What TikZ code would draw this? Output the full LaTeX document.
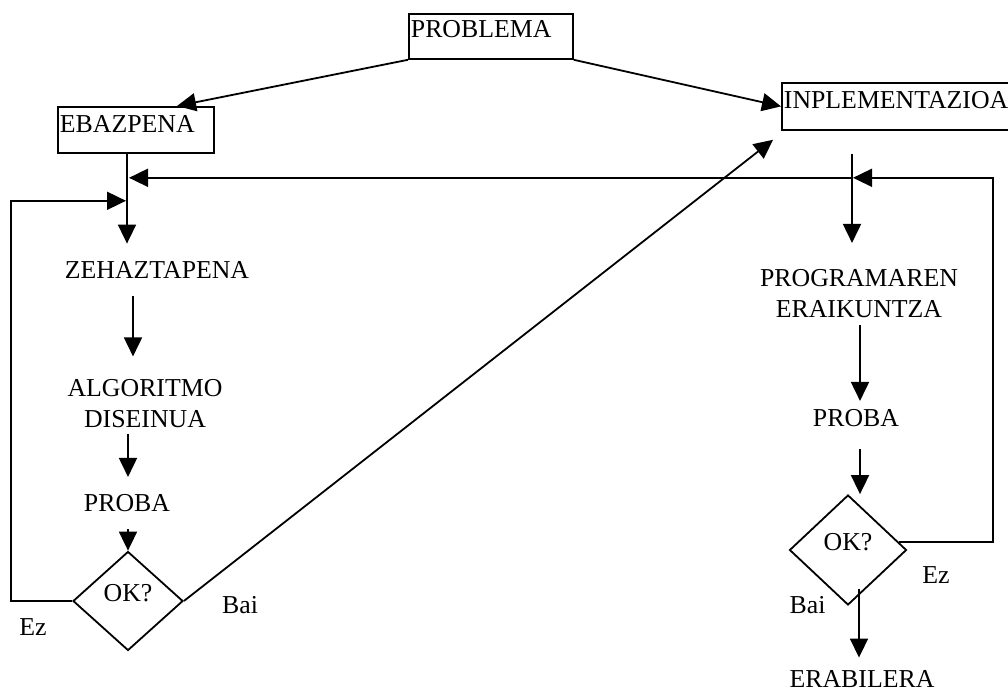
\documentclass[tikz,border=0pt]{standalone}
\usepackage{fontspec}
\setmainfont{Liberation Serif}
\usetikzlibrary{arrows.meta,shapes.geometric,calc}

\begin{document}
\begin{tikzpicture}[x=1pt,y=-1pt,line width=1.8pt,
		font=\fontsize{25.8}{31}\selectfont,
		arr/.style={-{Triangle[length=19pt,width=18pt]}},
		tbox/.style={draw,rectangle,anchor=north west,inner xsep=2pt,inner ysep=2pt,align=left,text height=24pt},
		txt/.style={inner sep=0pt,align=center},
		decision/.style={draw,diamond,inner sep=0pt,text height=17pt,text depth=17pt}]
		\useasboundingbox (0,0) rectangle (1008,693);

		\node[tbox,text width=160pt,text height=22pt,text depth=19pt] (problema) at (408,13) {PROBLEMA};
		\node[tbox,text width=152pt,text depth=18pt] (ebaz) at (57,106) {EBAZPENA};
		\node[tbox,text width=226pt,text depth=19pt] (inpl) at (781,82) {INPLEMENTAZIOA};

		% ebazpena
		\node[txt] (zehaz) at (157,270) {ZEHAZTAPENA};
		\node[txt] (algor) at (145,403.5) {ALGORITMO\\DISEINUA};
		\node[txt] (probaL) at (127,503.5) {PROBA};
		\node[decision,minimum width=110pt,minimum height=99pt] (okL) at (128,601) {OK?};
		\node[txt] (ezL) at (33,627) {Ez};
		\node[txt] (baiL) at (240,605.5) {Bai};

		% inplementazioa
		\node[txt] (progr) at (859,294) {PROGRAMAREN\\ERAIKUNTZA};
		\node[txt] (probaR) at (856,418.5) {PROBA};
		\node[decision,minimum width=117pt,minimum height=110pt] (okR) at (848,550) {OK?};
		\node[txt] (ezR) at (936,575) {Ez};
		\node[txt] (baiR) at (807.5,605.5) {Bai};
		\node[txt] (erab) at (862,679) {ERABILERA};

		\draw[arr] (problema.south west) -- ($(ebaz.north west)+(120,0)$);
		\draw[arr] (problema.south east) -- (inpl.west);

		\draw[arr] ($(ebaz.south west)+(70,0)$) -- ($(zehaz.north)+(-30,-17)$);
		\draw[arr] ($(zehaz.south)+(-24,17)$) -- ($(algor.north)+(-12,-22)$);
		\draw[arr] ($(algor.south)+(-17,5)$) -- ($(probaL.north)+(1,-17)$);
		\draw[arr] ($(probaL.south)+(1,16)$) -- (okL.north);
		\draw[arr] (okL.west) -- ++(-61,0) |- ($(ebaz.south west)+(69,47)$);
		\draw[arr] (okL.east) -- ($(inpl.south west)+(-8,9)$);

		\draw[arr] ($(inpl.south west)+(71,47)$) -- ($(ebaz.south west)+(72,24)$);
		\draw[arr] ($(okR.east)!0.145!(okR.north)$) -- ++(94,0) |- ($(inpl.south west)+(72,47)$);

		\draw[arr] ($(inpl.south west)+(71,23)$) -- ($(progr.north)+(-7,-26)$);
		\draw[arr] ($(progr.south)+(1,6)$) -- ($(probaR.north)+(4,-8)$);
		\draw[arr] ($(probaR.south)+(4,21)$) -- ($(okR.north)+(12,0)$);
		\draw[arr] ($(okR.south)+(11,-17)$) -- ($(erab.north)+(-3,-12)$);
	\end{tikzpicture}
\end{document}
